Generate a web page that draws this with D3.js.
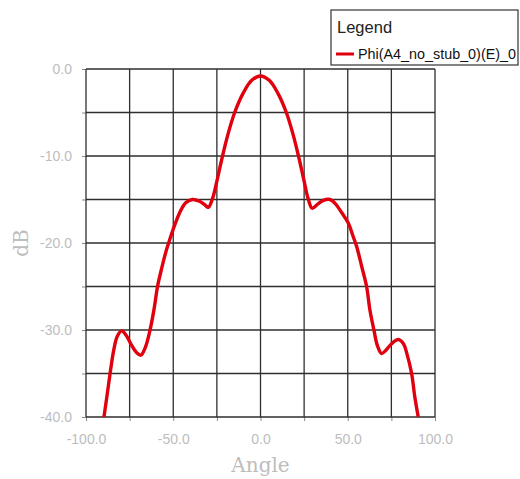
<!DOCTYPE html>
<html>
<head>
<meta charset="utf-8">
<script src="https://cdn.jsdelivr.net/npm/d3@7"></script>
<style>
  html, body { margin: 0; padding: 0; background: #ffffff; }
  svg { display: block; }
</style>
</head>
<body>
<svg id="chart" width="520" height="479"></svg>
<script>
// ---- data ----
const seriesName = "Phi(A4_no_stub_0)(E)_0";
const angles = [-89.7, -88, -86.2, -84, -82, -79.6, -77, -74, -71, -68.5, -66, -63.3, -61, -59, -56.5, -54.2, -52, -50, -46.5, -43, -39, -35, -32, -29.9, -27.5, -25, -22, -18.5, -14.8, -10, -5, 0, 5, 10, 14.8, 18.5, 22, 25, 27.3, 29.6, 33, 36, 39.8, 43, 46.5, 50.3, 53, 55.1, 58, 60.8, 62.7, 65, 67, 69.4, 72, 75, 79, 82, 84, 86.6, 88.5, 90.4];
const dB = [-40, -37.6, -35, -32.2, -30.7, -30.1, -30.6, -31.7, -32.6, -32.9, -32.0, -30, -27.6, -25, -22.8, -21.0, -19.6, -18.4, -16.6, -15.4, -15.0, -15.2, -15.6, -15.9, -14.9, -12.9, -10.2, -7.4, -5, -2.8, -1.3, -0.8, -1.3, -2.8, -5, -7.4, -10.2, -12.9, -14.9, -16.0, -15.5, -15.1, -15.0, -15.5, -16.5, -17.7, -19.2, -20.4, -22.7, -25, -27.7, -30, -31.8, -32.7, -32.3, -31.6, -31.1, -31.6, -32.8, -35, -37.8, -40];
const xGridValues = [-100, -75, -50, -25, 0, 25, 50, 75, 100];
const yGridValues = [0, -5, -10, -15, -20, -25, -30, -35, -40];
const xTickLabels = [-100, -50, 0, 50, 100];
const yTickLabels = [0, -10, -20, -30, -40];
const xTitle = "Angle";
const yTitle = "dB";
const legendTitle = "Legend";

// ---- layout ----
const svg = d3.select("#chart");
const plot = { left: 86, right: 435, top: 69, bottom: 417 };

const x = d3.scaleLinear().domain([-100, 100]).range([plot.left, plot.right]);
const y = d3.scaleLinear().domain([-40, 0]).range([plot.bottom, plot.top]);

const labelColor = "#bdbdbd";
const gridColor = "#2e2e2e";
const fmt = d => d.toFixed(1);

svg.append("defs").append("clipPath").attr("id", "clip")
  .append("rect")
  .attr("x", plot.left).attr("y", plot.top)
  .attr("width", plot.right - plot.left).attr("height", plot.bottom - plot.top);

// small outer ticks
const xTickAxis = d3.axisBottom(x).tickValues(xGridValues).tickSize(4).tickFormat("");
svg.append("g").attr("transform", `translate(0,${plot.bottom})`).call(xTickAxis)
  .call(g => g.select(".domain").remove())
  .call(g => g.selectAll("line").attr("stroke", "#8a8a8a"));
const yTickAxis = d3.axisLeft(y).tickValues(yGridValues).tickSize(4).tickFormat("");
svg.append("g").attr("transform", `translate(${plot.left},0)`).call(yTickAxis)
  .call(g => g.select(".domain").remove())
  .call(g => g.selectAll("line").attr("stroke", "#8a8a8a"));

// grid
svg.append("g").selectAll("line.v").data(xGridValues).join("line")
  .attr("x1", d => x(d)).attr("x2", d => x(d))
  .attr("y1", plot.top).attr("y2", plot.bottom)
  .attr("stroke", gridColor).attr("stroke-width", 1.3);
svg.append("g").selectAll("line.h").data(yGridValues).join("line")
  .attr("x1", plot.left).attr("x2", plot.right)
  .attr("y1", d => y(d)).attr("y2", d => y(d))
  .attr("stroke", gridColor).attr("stroke-width", 1.3);

// tick labels
const xLabelAxis = d3.axisBottom(x).tickValues(xTickLabels).tickSize(0).tickPadding(17)
  .tickFormat(fmt);
svg.append("g").attr("transform", `translate(0,${plot.bottom})`).call(xLabelAxis)
  .call(g => g.select(".domain").remove())
  .call(g => g.selectAll("text")
    .attr("font-family", "'Liberation Sans', Arial, sans-serif")
    .attr("font-size", 14).attr("fill", labelColor));

const yLabelAxis = d3.axisLeft(y).tickValues(yTickLabels).tickSize(0).tickPadding(14)
  .tickFormat(fmt);
svg.append("g").attr("transform", `translate(${plot.left},0)`).call(yLabelAxis)
  .call(g => g.select(".domain").remove())
  .call(g => g.selectAll("text")
    .attr("font-family", "'Liberation Sans', Arial, sans-serif")
    .attr("font-size", 14).attr("fill", labelColor));

// axis titles
svg.append("text").text(xTitle)
  .attr("x", (plot.left + plot.right) / 2).attr("y", 472)
  .attr("text-anchor", "middle")
  .attr("font-family", "'DejaVu Serif', serif").attr("font-size", 20)
  .attr("fill", labelColor);
svg.append("text").text(yTitle)
  .attr("transform", `translate(28,${(plot.top + plot.bottom) / 2}) rotate(-90)`)
  .attr("text-anchor", "middle")
  .attr("font-family", "'DejaVu Serif', serif").attr("font-size", 20)
  .attr("fill", labelColor);

// series
const pts = angles.map((a, i) => [a, dB[i]]);
const line = d3.line().x(d => x(d[0])).y(d => y(d[1])).curve(d3.curveCatmullRom.alpha(0.5));
svg.append("path").datum(pts)
  .attr("clip-path", "url(#clip)")
  .attr("d", line)
  .attr("fill", "none").attr("stroke", "#e0000e").attr("stroke-width", 3.4)
  .attr("stroke-linejoin", "round").attr("stroke-linecap", "round");

// legend
const lg = svg.append("g");
lg.append("rect").attr("x", 331).attr("y", 10).attr("width", 187).attr("height", 55)
  .attr("fill", "#ffffff").attr("stroke", "#333").attr("stroke-width", 1.2);
lg.append("text").text(legendTitle).attr("x", 337).attr("y", 33)
  .attr("font-family", "'Liberation Sans', Arial, sans-serif").attr("font-size", 16.5)
  .attr("fill", "#222");
lg.append("line").attr("x1", 336).attr("x2", 354).attr("y1", 54).attr("y2", 54)
  .attr("stroke", "#e0000e").attr("stroke-width", 3);
lg.append("text").text(seriesName).attr("x", 358).attr("y", 59)
  .attr("font-family", "'Liberation Sans', Arial, sans-serif").attr("font-size", 14)
  .attr("textLength", 158).attr("lengthAdjust", "spacingAndGlyphs")
  .attr("fill", "#111");
</script>
</body>
</html>
